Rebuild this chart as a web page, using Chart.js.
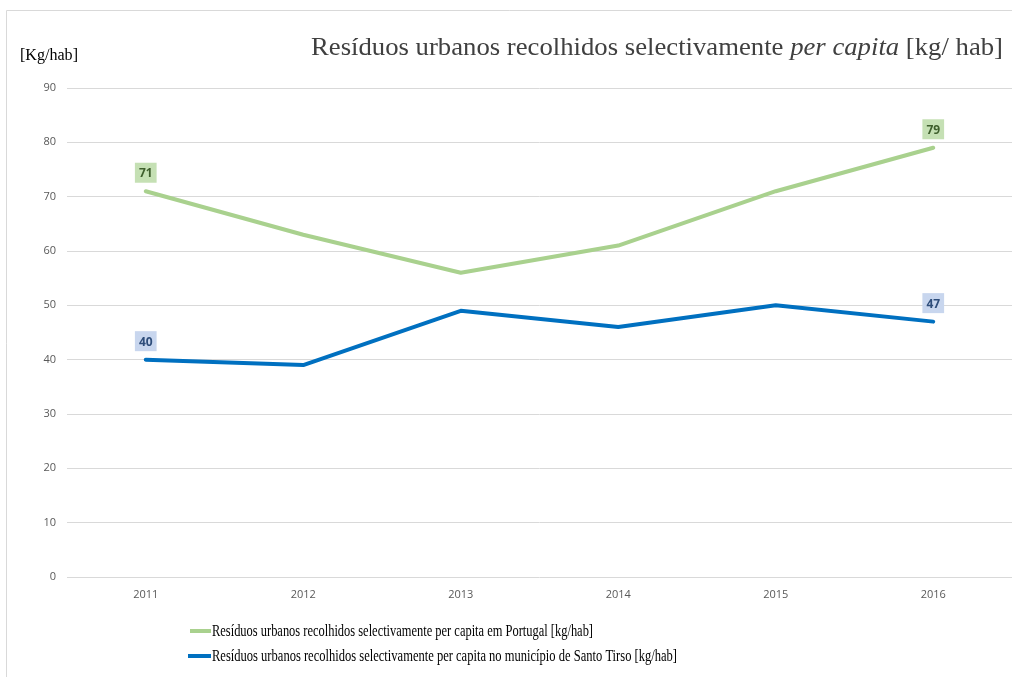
<!DOCTYPE html>
<html>
<head>
<meta charset="utf-8">
<script src="https://cdn.jsdelivr.net/npm/chart.js@4.4.1/dist/chart.umd.min.js"></script>
<style>
html,body{margin:0;padding:0;background:#fff;}
#wrap{width:1012px;height:677px;position:relative;}
</style>
</head>
<body>
<div id="wrap"><canvas id="c" width="1012" height="677"></canvas></div>
<script>
const years = ['2011','2012','2013','2014','2015','2016'];
const portugal = [71, 63, 56, 61, 71, 79];
const santoTirso = [40, 39, 49, 46, 50, 47];
const seriesNames = [
  'Resíduos urbanos recolhidos selectivamente per capita em Portugal [kg/hab]',
  'Resíduos urbanos recolhidos selectivamente per capita no município de Santo Tirso [kg/hab]'
];
const titleParts = [
  {t:'Resíduos urbanos recolhidos selectivamente ', italic:false},
  {t:'per capita', italic:true},
  {t:' [kg/ hab]', italic:false}
];
const yUnit = '[Kg/hab]';

const colors = {
  green:'#a9d18e', blue:'#0070c0',
  greenBg:'#c5e0b4', blueBg:'#c8d6ee',
  greenTxt:'#3f5f2d', blueTxt:'#2e4d7a'
};

const decor = {
  id:'decor',
  afterDraw(chart){
    const ctx = chart.ctx;
    ctx.save();
    // frame
    ctx.strokeStyle = '#d9d9d9';
    ctx.lineWidth = 1;
    ctx.beginPath();
    ctx.moveTo(6.5, 677); ctx.lineTo(6.5, 10.5); ctx.lineTo(1012, 10.5);
    ctx.stroke();
    // title (right aligned)
    ctx.fillStyle = '#404040';
    ctx.textBaseline = 'alphabetic';
    ctx.textAlign = 'left';
    let total = 0;
    const fonts = titleParts.map(p => (p.italic ? 'italic ' : '') + '26px "Liberation Serif"');
    titleParts.forEach((p,i)=>{ ctx.font = fonts[i]; total += ctx.measureText(p.t).width; });
    const targetL = 311, targetR = 1003;
    const sx = (targetR - targetL) / total;
    ctx.save();
    ctx.translate(targetL, 55);
    ctx.scale(sx, 1);
    let x = 0;
    titleParts.forEach((p,i)=>{ ctx.font = fonts[i]; ctx.fillText(p.t, x, 0); x += ctx.measureText(p.t).width; });
    ctx.restore();
    // unit label
    ctx.fillStyle = '#000';
    ctx.font = '16px "Liberation Serif"';
    const uw = ctx.measureText(yUnit).width;
    ctx.save();
    ctx.translate(20, 60);
    ctx.scale(58 / uw, 1);
    ctx.fillText(yUnit, 0, 0);
    ctx.restore();
    // data labels
    chart.data.datasets.forEach((ds, di) => {
      const meta = chart.getDatasetMeta(di);
      const idxs = [0, ds.data.length - 1];
      idxs.forEach(i => {
        const pt = meta.data[i];
        const cy = pt.y - 18.5;
        ctx.font = 'bold 12px "Open Sans"';
        const txt = String(ds.data[i]);
        const w = ctx.measureText(txt).width + 8;
        const h = 20;
        ctx.fillStyle = ds.labelBg;
        ctx.fillRect(pt.x - w/2, cy - h/2, w, h);
        ctx.fillStyle = ds.labelTxt;
        ctx.textAlign = 'center';
        ctx.textBaseline = 'middle';
        ctx.fillText(txt, pt.x, cy + 1);
      });
    });
    // legend
    const rows = [
      {y:631, x0:190, x1:211, w:381},
      {y:656, x0:188, x1:211, w:465}
    ];
    chart.data.datasets.forEach((ds, di) => {
      const r = rows[di];
      ctx.strokeStyle = ds.borderColor;
      ctx.lineWidth = 4;
      ctx.beginPath(); ctx.moveTo(r.x0, r.y); ctx.lineTo(r.x1, r.y); ctx.stroke();
      ctx.fillStyle = '#000';
      ctx.font = '17px "Liberation Serif"';
      ctx.textAlign = 'left';
      ctx.textBaseline = 'alphabetic';
      const tw = ctx.measureText(ds.label).width;
      ctx.save();
      ctx.translate(212, r.y + 5);
      ctx.scale(r.w / tw, 1);
      ctx.fillText(ds.label, 0, 0);
      ctx.restore();
    });
    ctx.restore();
  }
};

new Chart(document.getElementById('c'), {
  type:'line',
  data:{
    labels: years,
    datasets:[
      {label: seriesNames[0], data: portugal, borderColor: colors.green, backgroundColor: colors.green,
       borderWidth: 4, pointRadius: 0, tension: 0, labelBg: colors.greenBg, labelTxt: colors.greenTxt,
       borderCapStyle:'round', borderJoinStyle:'round'},
      {label: seriesNames[1], data: santoTirso, borderColor: colors.blue, backgroundColor: colors.blue,
       borderWidth: 4, pointRadius: 0, tension: 0, labelBg: colors.blueBg, labelTxt: colors.blueTxt,
       borderCapStyle:'round', borderJoinStyle:'round'}
    ]
  },
  options:{
    responsive:false,
    animation:false,
    layout:{padding:{top:88, left:0, right:0, bottom:0}},
    plugins:{legend:{display:false}, title:{display:false}, tooltip:{enabled:false}},
    scales:{
      x:{
        offset:true,
        grid:{display:false, drawTicks:false},
        border:{display:false},
        ticks:{color:'#595959', font:{family:'"Open Sans"', size:11}, padding:11, maxRotation:0},
        afterFit(s){ s.height = 100; }
      },
      y:{
        min:0, max:90,
        grid:{color:'#d9d9d9', lineWidth:1, drawTicks:false},
        border:{display:false},
        ticks:{stepSize:10, color:'#595959', font:{family:'"Open Sans"', size:11}, padding:11},
        afterFit(s){ s.width = 67; }
      }
    }
  },
  plugins:[decor]
});
</script>
</body>
</html>
